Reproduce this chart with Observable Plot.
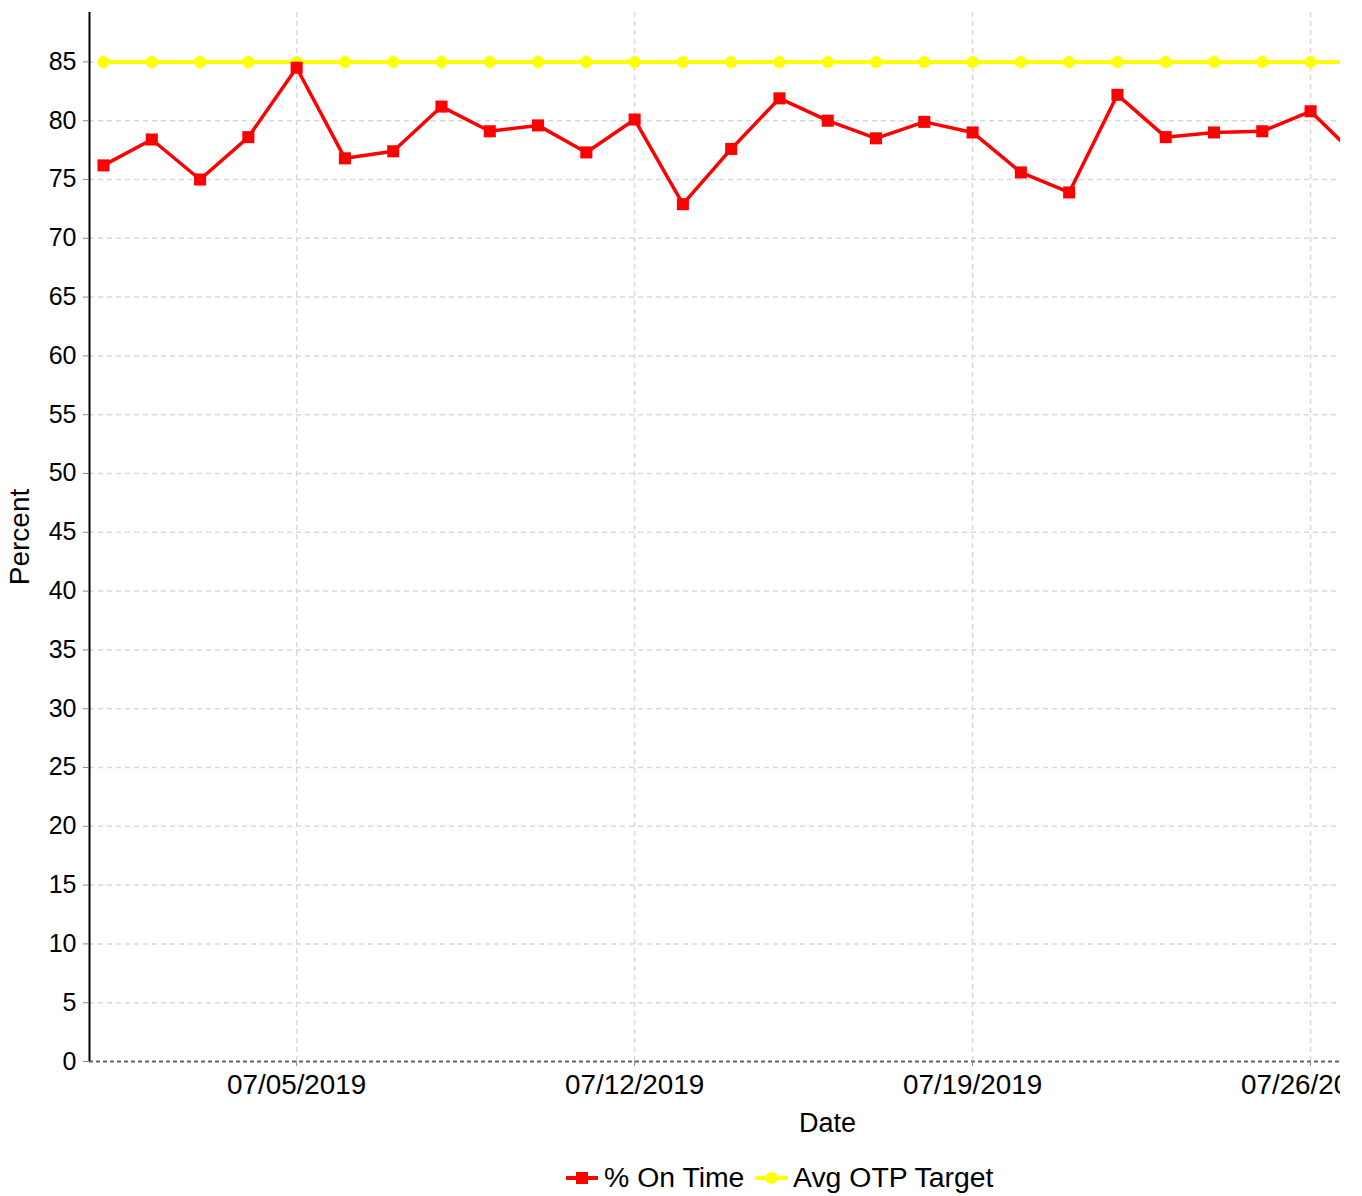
<!DOCTYPE html>
<html>
<head>
<meta charset="utf-8">
<script src="https://cdn.jsdelivr.net/npm/d3@7"></script>
<script src="https://cdn.jsdelivr.net/npm/@observablehq/plot@0.6"></script>
<style>
  body { margin: 0; background: #fff; font-family: "Liberation Sans", Arial, sans-serif; }
  #wrap { position: relative; width: 1362px; height: 1196px; overflow: hidden; }
  #chart { position: absolute; left: 0; top: 0; }
  .lbl { position: absolute; font-size: 27px; line-height: 1; color: #000; white-space: nowrap; }
  .leg { font-size: 28.4px; }
  .sw { position: absolute; }
</style>
</head>
<body>
<div id="wrap">
  <div id="chart"></div>
  <div class="lbl" id="xlabel" style="left:799px; top:1110px;">Date</div>
  <svg class="sw" style="left:566px; top:1169px;" width="32" height="18">
    <line x1="0" y1="9" x2="32" y2="9" stroke="#ff0000" stroke-width="4"></line>
    <rect x="10" y="3" width="12" height="12" fill="#ff0000"></rect>
  </svg>
  <div class="lbl leg" id="leg1" style="left:604px; top:1163px;"></div>
  <svg class="sw" style="left:755px; top:1169px;" width="33" height="18">
    <line x1="0" y1="9" x2="33" y2="9" stroke="#ffff00" stroke-width="4"></line>
    <circle cx="16.5" cy="9" r="6" fill="#ffff00"></circle>
  </svg>
  <div class="lbl leg" id="leg2" style="left:793px; top:1163px;"></div>
</div>
<script>
// ---- data ----
const dates = ["2019-07-01","2019-07-02","2019-07-03","2019-07-04","2019-07-05","2019-07-06","2019-07-07",
  "2019-07-08","2019-07-09","2019-07-10","2019-07-11","2019-07-12","2019-07-13","2019-07-14",
  "2019-07-15","2019-07-16","2019-07-17","2019-07-18","2019-07-19","2019-07-20","2019-07-21",
  "2019-07-22","2019-07-23","2019-07-24","2019-07-25","2019-07-26","2019-07-27"];
const onTime = [76.2, 78.4, 75.0, 78.6, 84.5, 76.8, 77.4, 81.2, 79.1, 79.6, 77.3, 80.1, 72.9, 77.6,
  81.9, 80.0, 78.5, 79.9, 79.0, 75.6, 73.9, 82.2, 78.6, 79.0, 79.1, 80.8, 76.8];
const target = [85, 85, 85, 85, 85, 85, 85, 85, 85, 85, 85, 85, 85, 85,
  85, 85, 85, 85, 85, 85, 85, 85, 85, 85, 85, 85, 85];
const seriesNames = ["% On Time", "Avg OTP Target"];
const yTicks = [0, 5, 10, 15, 20, 25, 30, 35, 40, 45, 50, 55, 60, 65, 70, 75, 80, 85];
const xTicks = ["2019-07-05", "2019-07-12", "2019-07-19", "2019-07-26"];
const xDomainDays = ["2019-06-30T17:02", "2019-07-26T14:53"];
const yMax = 89.2;
const yLabel = "Percent";

document.getElementById("leg1").textContent = seriesNames[0];
document.getElementById("leg2").textContent = seriesNames[1];

const parse = d3.utcParse("%Y-%m-%d");
const parseT = d3.utcParse("%Y-%m-%dT%H:%M");
const rows = dates.map((d, i) => ({date: parse(d), onTime: onTime[i], target: target[i]}));
const xDomain = xDomainDays.map(parseT);
const xTickDates = xTicks.map(parse);

const chart = Plot.plot({
  width: 1340,
  height: 1100,
  marginLeft: 89,
  marginRight: 0,
  marginTop: 12,
  marginBottom: 39,
  style: {fontFamily: "'Liberation Sans', Arial, sans-serif", fontSize: "25px", color: "#000", background: "#fff", overflow: "hidden"},
  x: {type: "utc", domain: xDomain},
  y: {domain: [0, yMax]},
  marks: [
    Plot.gridY(yTicks.filter(d => d > 0), {stroke: "#d9d9d9", strokeOpacity: 1, strokeWidth: 1.5, strokeDasharray: "5,4"}),
    Plot.gridX(xTickDates, {stroke: "#d9d9d9", strokeOpacity: 1, strokeWidth: 1.5, strokeDasharray: "5,4"}),
    Plot.ruleY([0], {stroke: "#666", strokeWidth: 2, strokeDasharray: "4,3"}),
    Plot.ruleX([xDomain[0]], {stroke: "#000", strokeWidth: 2}),
    Plot.axisY(yTicks, {tickSize: 6, tickPadding: 7, stroke: "#888", fontSize: 25, label: null}),
    Plot.axisX(xTickDates, {tickSize: 5, tickPadding: 8, stroke: "#888", fontSize: 27.8, label: null,
      tickFormat: d3.utcFormat("%m/%d/%Y")}),
    Plot.text([yLabel], {frameAnchor: "left", textAnchor: "middle", rotate: -90, dx: -69, fontSize: 28, fill: "#000"}),
    Plot.line(rows, {x: "date", y: "target", stroke: "#ffff00", strokeWidth: 4}),
    Plot.dot(rows, {x: "date", y: "target", fill: "#ffff00", r: 6, symbol: "circle"}),
    Plot.line(rows, {x: "date", y: "onTime", stroke: "#ff0000", strokeWidth: 3.5}),
    Plot.dot(rows, {x: "date", y: "onTime", fill: "#ff0000", r: 6.8, symbol: "square"})
  ]
});
document.getElementById("chart").appendChild(chart);
</script>
</body>
</html>
